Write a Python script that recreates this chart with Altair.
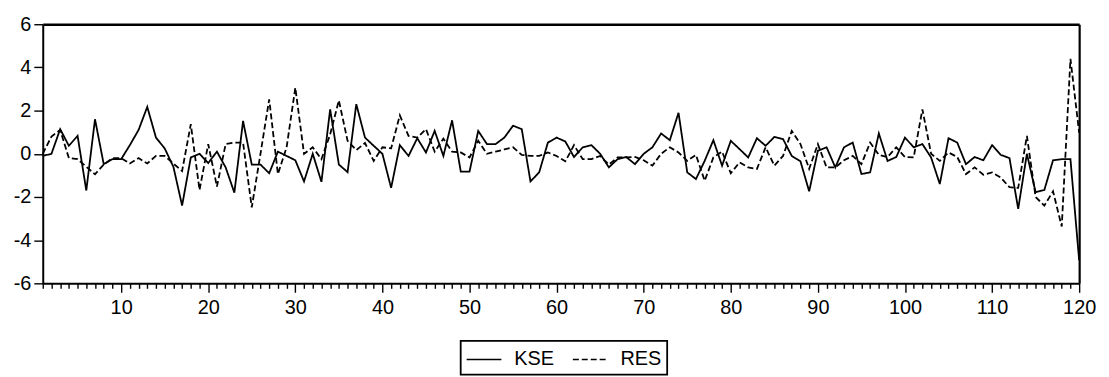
import altair as alt
import pandas as pd

obs = list(range(1, 121))

kse = [-0.1, 0.0, 1.14, 0.37, 0.83, -1.7, 1.6, -0.48, -0.25, -0.25,
       0.4, 1.1, 2.17, 0.75, 0.25, -0.6, -2.4, -0.17, 0.0, -0.43,
       0.1, -0.63, -1.8, 1.52, -0.5, -0.5, -0.9, 0.1, -0.1, -0.3,
       -1.28, 0.0, -1.3, 2.06, -0.5, -0.85, 2.3, 0.75, 0.37, 0.0,
       -1.58, 0.4, -0.1, 0.72, 0.06, 1.06, -0.1, 1.55, -0.83, -0.83,
       1.06, 0.45, 0.45, 0.75, 1.3, 1.14, -1.28, -0.86, 0.52, 0.75,
       0.57, -0.15, 0.3, 0.4, 0.0, -0.63, -0.25, -0.15, -0.48, 0.0,
       0.3, 0.94, 0.63, 1.9, -0.86, -1.17, -0.33, 0.63, -0.55, 0.6,
       0.22, -0.17, 0.72, 0.37, 0.78, 0.68, -0.1, -0.35, -1.74, 0.14,
       0.3, -0.63, 0.3, 0.52, -0.94, -0.86, 0.94, -0.33, -0.15, 0.75,
       0.3, 0.45, -0.17, -1.4, 0.72, 0.52, -0.48, -0.15, -0.3, 0.4,
       -0.05, -0.2, -2.55, 0.0, -1.78, -1.68, -0.3, -0.25, -0.25, -4.94]

res = [0.0, 0.8, 1.1, -0.2, -0.25, -0.6, -0.95, -0.5, -0.2, -0.2,
       -0.45, -0.2, -0.45, -0.1, -0.1, -0.45, -0.8, 1.37, -1.68, 0.45,
       -1.52, 0.45, 0.52, 0.52, -2.48, 0.0, 2.52, -0.94, 0.3, 3.06,
       0.0, 0.3, -0.25, 0.9, 2.47, 0.6, 0.17, 0.5, -0.33, 0.3,
       0.25, 1.78, 0.83, 0.75, 1.14, 0.1, 0.7, 0.1, 0.06, -0.17,
       0.6, 0.0, 0.1, 0.2, 0.3, -0.05, -0.1, -0.1, 0.06, -0.1,
       -0.35, 0.4, -0.25, -0.25, -0.1, -0.5, -0.17, -0.17, -0.15, -0.3,
       -0.55, 0.0, 0.3, 0.06, -0.33, -0.05, -1.25, -0.17, 0.1, -0.9,
       -0.4, -0.63, -0.7, 0.3, -0.55, -0.1, 1.06, 0.45, -0.7, 0.45,
       -0.63, -0.63, -0.3, -0.1, -0.48, 0.52, -0.05, -0.15, 0.3, -0.15,
       -0.17, 2.06, 0.0, -0.33, 0.06, -0.15, -0.94, -0.63, -0.97, -0.86,
       -1.1, -1.55, -1.58, 0.83, -2.0, -2.4, -1.74, -3.37, 4.4, 0.98]

series_names = ["KSE", "RES"]
y_ticks = [-6, -4, -2, 0, 2, 4, 6]

df = pd.concat([
    pd.DataFrame({"obs": obs, "value": kse, "series": series_names[0]}),
    pd.DataFrame({"obs": obs, "value": res, "series": series_names[1]}),
])

FONT = "Liberation Sans"
xscale = alt.Scale(domain=[1, 120], nice=False, zero=False)
yscale = alt.Scale(domain=[-6, 6], nice=False)

lines = alt.Chart(df).mark_line(color="black", strokeWidth=1.8).encode(
    x=alt.X("obs:Q", scale=xscale,
            axis=alt.Axis(values=obs, title=None, grid=False, orient="bottom",
                          tickSize={"condition": {"test": "datum.value % 10 === 0", "value": 9}, "value": 5},
                          labelExpr="datum.value % 10 === 0 ? '' + datum.value : ''",
                          labelOverlap=False, labelFlush=False, labelBound=False,
                          labelFont=FONT, labelFontSize=20, labelColor="black",
                          labelPadding=5, tickColor="black", tickWidth=1.4,
                          domainColor="black", domainWidth=2)),
    y=alt.Y("value:Q", scale=yscale,
            axis=alt.Axis(values=y_ticks, title=None, grid=False, orient="left",
                          labelExpr="'' + datum.value",
                          labelFont=FONT, labelFontSize=20, labelColor="black",
                          labelPadding=3, tickSize=9, tickColor="black", tickWidth=1.4,
                          domainColor="black", domainWidth=2)),
    strokeDash=alt.StrokeDash("series:N",
                              scale=alt.Scale(domain=series_names, range=[[1, 0], [6, 3]]),
                              legend=alt.Legend(title=None, orient="none", direction="horizontal",
                                                legendX=421, legendY=319,
                                                strokeColor="black",
                                                padding=5,
                                                symbolType="M-1.4,0H1.4",
                                                symbolSize=625, symbolStrokeWidth=1.6,
                                                symbolStrokeColor="black",
                                                symbolOffset=5,
                                                labelFont=FONT, labelFontSize=20,
                                                labelColor="black", labelOffset=17,
                                                columnPadding=14)),
)

frame = alt.Chart(df).mark_line(opacity=0).encode(
    x=alt.X("obs:Q", scale=xscale,
            axis=alt.Axis(orient="top", title=None, labels=False, ticks=False, grid=False,
                          domainColor="black", domainWidth=2.4)),
    y=alt.Y("value:Q", scale=yscale,
            axis=alt.Axis(orient="right", title=None, labels=False, ticks=False, grid=False,
                          domainColor="black", domainWidth=2.2)),
    detail="series:N",
)

chart = alt.layer(lines, frame).resolve_axis(
    x="independent", y="independent"
).properties(
    width=1044, height=261,
    background="white",
    autosize=alt.AutoSizeParams(type="none"),
    padding={"left": 35, "top": 15, "right": 22, "bottom": 93},
).configure_view(
    strokeWidth=0
).configure_legend(
    strokeWidth=1.8
)

chart.save("out.html", embed_options={"renderer": "svg", "actions": False})
